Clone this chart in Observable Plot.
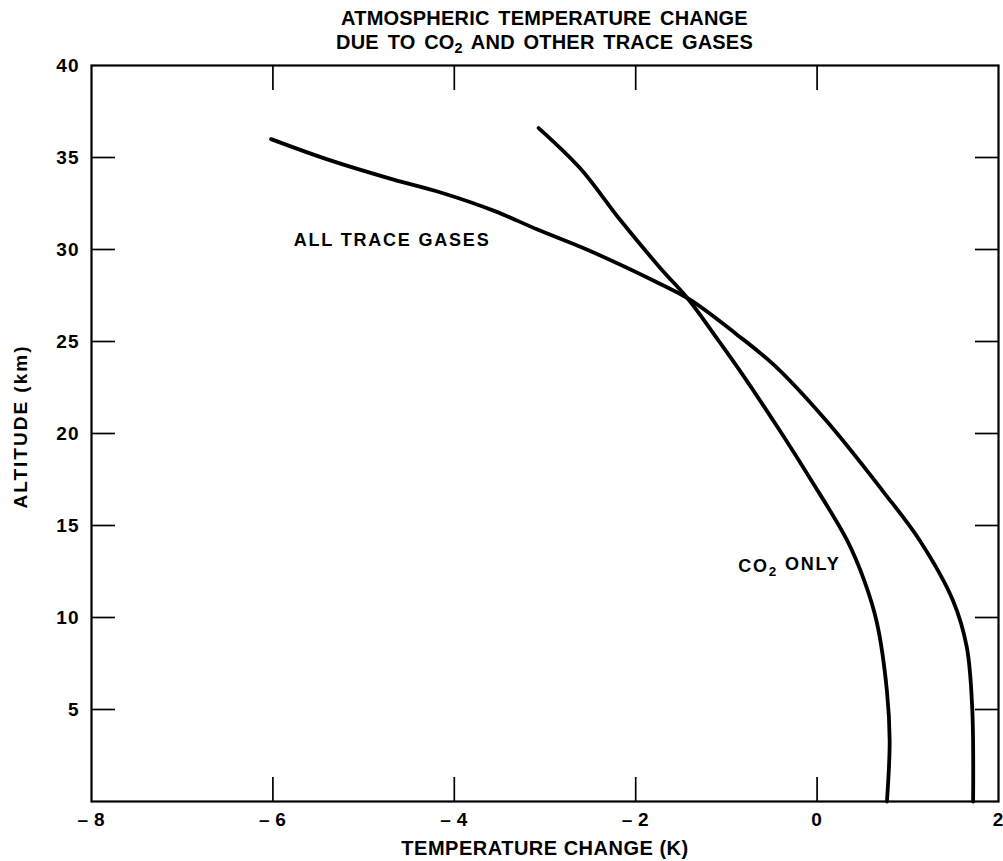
<!DOCTYPE html>
<html><head><meta charset="utf-8">
<script src="https://cdn.jsdelivr.net/npm/d3@7"></script>
<script src="https://cdn.jsdelivr.net/npm/@observablehq/plot@0.6"></script>
<style>
body{margin:0;background:#fff;font-family:"Liberation Sans",Arial,sans-serif;}
#title{height:52px;width:907px;margin-left:91px;text-align:center;font-weight:bold;font-size:20px;line-height:24px;color:#000;letter-spacing:0.2px;word-spacing:3px;}
#title .l1{padding-top:6px;}
#title sub{font-size:0.72em;vertical-align:-0.3em;line-height:0;}
#chart svg{display:block;}
g[aria-label="x-axis label"] text{font-size:20px;letter-spacing:0.5px;}
g[aria-label="x-axis tick label"] text, g[aria-label="y-axis tick label"] text{font-size:19px;letter-spacing:1px;}
</style></head><body>
<div id="title"><div class="l1">ATMOSPHERIC TEMPERATURE CHANGE</div><div>DUE TO CO<sub>2</sub> AND OTHER TRACE GASES</div></div>
<div id="chart"></div>
<script>
// CO2 only curve: altitude (km) and temperature change (K)
const altCO2  = [0, 3.3, 6.0, 9.7, 12.0, 14.2, 17.5, 20.0, 23.4, 25.0, 27.3, 29.0, 31.6, 34.4, 36.6];
const tempCO2 = [0.77, 0.80, 0.77, 0.66, 0.52, 0.33, -0.07, -0.39, -0.85, -1.08, -1.42, -1.73, -2.17, -2.61, -3.07];
// All trace gases curve
const altAll  = [0, 5.1, 8.4, 10.9, 14.2, 16.9, 20.7, 23.7, 25.4, 27.3, 28.3, 30.0, 31.1, 32.1, 33.1, 33.8, 34.9, 36.0];
const tempAll = [1.72, 1.71, 1.65, 1.50, 1.13, 0.72, 0.10, -0.47, -0.89, -1.41, -1.80, -2.54, -3.09, -3.56, -4.15, -4.67, -5.40, -6.02];
// ticks
const xTickValues  = [-6, -4, -2, 0];
const xLabelValues = [-8, -6, -4, -2, 0, 2];
const yTickValues  = [5, 10, 15, 20, 25, 30, 35];
const yLabelValues = [5, 10, 15, 20, 25, 30, 35, 40];
// axis titles
const xTitle = "TEMPERATURE CHANGE (K)";
const yTitle = "ALTITUDE (km)";
// curve labels
const curveLabelText = ["ALL TRACE GASES", "CO2 ONLY"];
const curveLabelX = [-5.77, -0.87];
const curveLabelY = [30.5, 12.8];

const co2 = altCO2.map((a, i) => ({alt: a, temp: tempCO2[i]}));
const all = altAll.map((a, i) => ({alt: a, temp: tempAll[i]}));
const curveLabels = curveLabelText.map((t, i) => ({text: t, x: curveLabelX[i], y: curveLabelY[i]}));

const fmtX = d => d < 0 ? "\u2013\u2009" + (-d) : String(d);

const chart = Plot.plot({
  width: 1003, height: 809,
  marginTop: 13, marginBottom: 60, marginLeft: 91, marginRight: 5,
  style: {fontFamily: "'Liberation Sans', Arial, sans-serif", fontWeight: "bold", color: "#000", background: "#fff", overflow: "visible"},
  x: {domain: [-8, 2]},
  y: {domain: [0, 40]},
  marks: [
    Plot.frame({stroke: "#000", strokeWidth: 2.2}),
    Plot.axisX(xTickValues, {anchor: "bottom", tickSize: -24, fill: "none", label: null, strokeWidth: 1.7}),
    Plot.axisX(xTickValues, {anchor: "top", tickSize: -24, fill: "none", label: null, strokeWidth: 1.7}),
    Plot.axisY(yTickValues, {anchor: "left", tickSize: -24, fill: "none", label: null, strokeWidth: 1.7}),
    Plot.axisY(yTickValues, {anchor: "right", tickSize: -24, fill: "none", label: null, strokeWidth: 1.7}),
    Plot.axisX(xLabelValues, {anchor: "bottom", tickSize: 0, tickPadding: 11, fontSize: 19, tickFormat: fmtX,
      label: xTitle, labelAnchor: "center", labelArrow: "none", labelOffset: 53}),
    Plot.axisY(yLabelValues, {anchor: "left", tickSize: 0, tickPadding: 12, fontSize: 19, label: null}),
    Plot.text([yTitle], {frameAnchor: "left", textAnchor: "middle", rotate: -90, dx: -71, dy: -7, fontSize: 19, fill: "#000"}),
    Plot.line(all, {x: "temp", y: "alt", curve: "catmull-rom", stroke: "#000", strokeWidth: 3.8, strokeLinecap: "round"}),
    Plot.line(co2, {x: "temp", y: "alt", curve: "catmull-rom", stroke: "#000", strokeWidth: 3.8, strokeLinecap: "round"}),
    Plot.text(curveLabels, {x: "x", y: "y", text: "text", textAnchor: "start", fontSize: 18, fill: "#000"})
  ]
});
document.getElementById("chart").appendChild(chart);

// subscript the 2 of CO2 inside the chart
d3.select(chart).selectAll("text").each(function() {
  const t = this.textContent;
  if (t === "CO2 ONLY") {
    const sel = d3.select(this);
    sel.text(null);
    sel.append("tspan").text("CO");
    sel.append("tspan").attr("dy", "0.32em").attr("font-size", "0.75em").text("2");
    sel.append("tspan").attr("dy", "-0.32em").text(" ONLY");
    sel.style("letter-spacing", "1.8px");
  } else if (t === "ALL TRACE GASES") {
    d3.select(this).style("letter-spacing", "1.8px");
  } else if (t === yTitle) {
    d3.select(this).style("letter-spacing", "2px");
  }
});
</script>
</body></html>
